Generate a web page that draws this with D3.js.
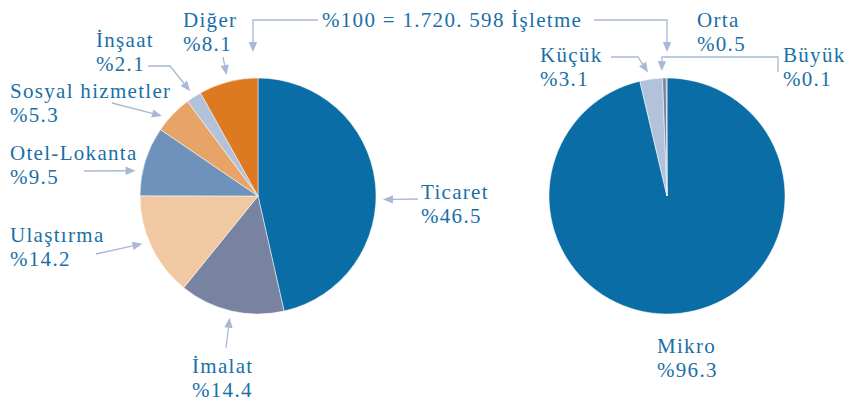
<!DOCTYPE html>
<html>
<head>
<meta charset="utf-8">
<script src="https://cdn.jsdelivr.net/npm/d3@7"></script>
<style>
    body { margin: 0; background: #fff; }
    svg { display: block; }
    text { font-family: "Liberation Serif", "DejaVu Serif", serif; }
</style>
</head>
<body>
<div id="chart"></div>
<script>

// sektorler (sol pasta)
var sektorler = ["Ticaret", "İmalat", "Ulaştırma", "Otel-Lokanta", "Sosyal hizmetler", "İnşaat", "Diğer"];
var sektorPay = [46.5, 14.4, 14.2, 9.5, 5.3, 2.1, 8.1];

// olcekler (sag pasta)
var olcekler = ["Mikro", "Küçük", "Orta", "Büyük"];
var olcekPay = [96.3, 3.1, 0.5, 0.1];

var toplamEtiket = "%100 = 1.720. 598 İşletme";

var sektorRenk = ["#0a6da6", "#7882a1", "#f0c8a2", "#6f92bd", "#e8a468", "#b2c2db", "#dc7921"];
var olcekRenk = ["#0a6da6", "#b2c2db", "#7882a1", "#7882a1"];

var textColor = "#1a6fa7";
var lineColor = "#a8b8d5";
var R = 118;
var lineGap = 24;

var svg = d3.select("#chart").append("svg")
    .attr("width", 847)
    .attr("height", 400);

var pie = d3.pie().sort(null).value(function (d) { return d; });
var arc = d3.arc().innerRadius(0).outerRadius(R);

// label layout: text position, arrow tail points, nudge of arrow tip (deg)
var sektorLayout = [
    {x: 421, y: 198.5, tail: [[418, 199]], nudge: 8},
    {x: 192, y: 372.5, tail: [[226, 348]], nudge: 0},
    {x: 10, y: 241.5, tail: [[96, 254]], nudge: 3},
    {x: 10, y: 159.5, tail: [[84, 171]], nudge: -5.5},
    {x: 10, y: 97.5, tail: [[112, 103]], nudge: -4},
    {x: 96, y: 46.5, tail: [[148, 66], [170, 66]], nudge: 0},
    {x: 183, y: 26.5, tail: [[223, 57]], nudge: 0}
];
var olcekLayout = [
    {x: 657, y: 352.5, tail: null},
    {x: 540, y: 61.5, tail: [[611, 57], [638, 57]], nudge: -1},
    {x: 697, y: 26.5, tail: null},
    {x: 783, y: 61.5, tail: [[778, 72], [778, 57], [662, 57]], nudge: -2.2}
];

function drawPie(cx, cy, values, names, colors, layout) {
    var g = svg.append("g").attr("transform", "translate(" + cx + "," + cy + ")");
    var arcs = pie(values);

    g.selectAll("path.slice")
        .data(arcs)
        .enter().append("path")
        .attr("class", "slice")
        .attr("d", arc)
        .attr("fill", function (d, i) { return colors[i]; })
        .attr("stroke", "#fff")
        .attr("stroke-width", 0.5);

    arcs.forEach(function (d, i) {
        var lay = layout[i];
        label(lay.x, lay.y, names[i], "%" + values[i]);
        if (lay.tail) {
            var a = (d.startAngle + d.endAngle) / 2 + lay.nudge * Math.PI / 180;
            var tip = [cx + (R + 7) * Math.sin(a), cy - (R + 7) * Math.cos(a)];
            arrow(lay.tail.concat([tip]));
        }
    });
}

function label(x, y, l1, l2) {
    var t = svg.append("text")
        .attr("x", x)
        .attr("y", y)
        .attr("fill", textColor)
        .style("font-size", "21px")
        .style("letter-spacing", "1.3px");
    t.append("tspan").attr("x", x).attr("y", y).text(l1);
    if (l2) t.append("tspan").attr("x", x).attr("y", y + lineGap).text(l2);
}

// polyline whose last point gets an arrow head
function arrow(pts) {
    var n = pts.length;
    var p = pts[n - 2], q = pts[n - 1];
    var dx = q[0] - p[0], dy = q[1] - p[1];
    var len = Math.sqrt(dx * dx + dy * dy);
    var ux = dx / len, uy = dy / len;
    var hl = 10, hw = 4.2;
    var base = [q[0] - ux * hl, q[1] - uy * hl];
    var line = pts.slice(0, n - 1).concat([base]);

    svg.append("path")
        .attr("d", d3.line()(line))
        .attr("fill", "none")
        .attr("stroke", lineColor)
        .attr("stroke-width", 1.3);

    svg.append("path")
        .attr("d", d3.line()([
            q,
            [base[0] - uy * hw, base[1] + ux * hw],
            [base[0] + uy * hw, base[1] - ux * hw]
        ]) + "Z")
        .attr("fill", lineColor);
}

drawPie(258, 196, sektorPay, sektorler, sektorRenk, sektorLayout);
drawPie(667, 196, olcekPay, olcekler, olcekRenk, olcekLayout);

// toplam etiketi ve iki pastaya giden oklar
label(322, 27, toplamEtiket);
arrow([[318, 20], [253, 20], [253, 52]]);
arrow([[594, 20], [667, 20], [667, 52]]);

</script>
</body>
</html>
